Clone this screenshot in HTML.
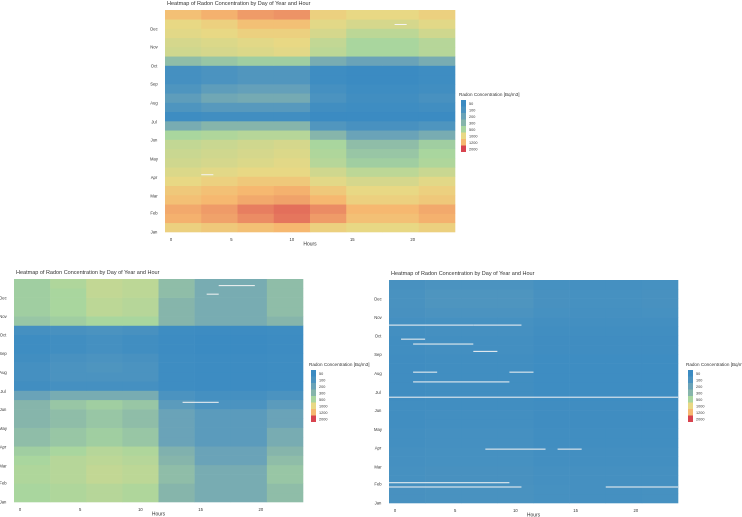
<!DOCTYPE html>
<html><head><meta charset="utf-8"><style>
body{margin:0;background:#fff;width:742px;height:517px;overflow:hidden;font-family:"Liberation Sans",sans-serif}
svg{position:absolute;left:0;top:0}
text{font-family:"Liberation Sans",sans-serif;fill:#333}
</style></head><body>
<svg id="s" width="742" height="517"></svg>
<script>
const months=["Jan","Feb","Mar","Apr","May","Jun","Jul","Aug","Sep","Oct","Nov","Dec"];
const monthStart=[0,31,59,90,120,151,181,212,243,273,304,334];
const hourTicks=[0,5,10,15,20];
const legendLabels=["50","100","200","300","500","1000","1200","2000"];
const legendColors=["#3b8bc2","#4b93c0","#6aa3b8","#86b5ab","#a9d69e","#e8d884","#f6b870","#d8434f"];
// half-month bands (Jan first), 8 hour blocks of 3 h
const chart1Values=[
[1050,1100,1150,1200,1050,1000,1000,1050],[1250,1350,1500,1650,1400,1150,1150,1250],
[1300,1400,1600,1700,1500,1200,1200,1300],[1150,1200,1300,1350,1200,1050,1050,1100],
[1100,1150,1200,1250,1100,1000,1000,1050],[1000,1050,1100,1100,950,850,850,950],
[900,950,1000,1000,800,650,650,750],[800,850,900,950,600,450,450,550],
[750,800,850,900,550,400,400,500],[700,750,800,850,500,350,350,450],
[500,550,600,600,300,200,200,250],[250,300,300,300,120,90,90,110],
[60,70,70,70,50,50,50,50],[110,140,140,140,70,60,60,70],
[160,220,240,240,100,70,70,90],[110,160,180,180,80,60,60,70],
[80,100,120,120,60,50,50,60],[80,100,120,120,60,50,50,60],
[350,400,450,450,250,200,200,250],[800,850,900,950,650,500,500,600],
[850,900,950,1000,700,500,500,600],[950,1000,1050,1050,850,650,650,800],
[1000,1050,1150,1150,950,850,850,950],[1150,1250,1400,1450,1050,1000,1000,1050]];
const chart2Values=[
[500,550,600,550,300,250,250,350],[500,550,600,550,300,250,250,350],
[550,600,700,650,350,250,250,400],[550,600,700,650,350,250,250,400],
[500,600,650,600,300,200,200,350],[450,500,600,550,280,200,200,300],
[350,400,450,400,200,150,150,250],[350,400,450,400,200,150,150,250],
[300,350,400,350,200,150,150,200],[300,350,400,350,200,150,150,200],
[300,400,450,400,150,100,100,150],[200,250,250,250,100,80,80,100],
[70,80,80,80,60,55,55,60],[80,100,100,100,60,55,55,60],
[80,100,110,100,60,55,55,60],[70,90,100,90,60,55,55,60],
[60,70,80,70,55,50,50,55],[60,70,80,70,55,50,50,55],
[80,90,100,90,60,55,55,60],[400,450,500,500,300,250,250,300],
[450,500,650,600,300,250,250,350],[450,500,650,600,300,250,250,350],
[450,500,700,650,350,250,250,350],[450,550,700,650,350,250,250,350]];
const chart3Values=[
[90,95,95,95,85,80,80,85],[90,95,95,95,85,80,80,85],[85,90,90,90,80,80,80,80],[85,90,90,90,80,80,80,80],
[80,85,85,85,75,75,75,75],[80,85,85,85,75,75,75,75],[75,80,80,80,70,70,70,70],[75,80,80,80,70,70,70,70],
[70,75,75,75,65,65,65,65],[70,75,75,75,65,65,65,65],[70,70,70,70,65,65,65,65],[65,70,70,70,60,60,60,60],
[65,70,70,70,60,60,60,60],[65,70,70,70,60,60,60,60],[65,70,70,70,60,60,60,60],[65,70,70,70,60,60,60,60],
[70,75,75,75,65,65,65,65],[70,75,75,75,65,65,65,65],[75,80,80,80,70,70,70,70],[80,85,85,85,75,75,75,75],
[90,100,100,100,85,80,80,85],[95,110,110,110,90,85,85,90],[95,110,110,110,90,85,85,90],[90,100,100,100,85,80,80,85]];
// missing-data gaps: [dayOfYear, startHour, endHour]
const chart3Gaps=[[291,0,7],[291,7,11],[173,0,24],[268,1,3],[260,2,7],[33,0,10],[26,0,11],[26,18,24],[88,8,13],[88,14,16],[214,2,4],[214,10,12],[198,2,10],[248,7,9]];
const chart2Gaps=[[354,17,20],[340,16,17],[163,14,17]];
const chart1Gaps=[[341,19,20],[94,3,4]];

const S=document.getElementById('s');const NS='http://www.w3.org/2000/svg';
function mk(t,a,p){const e=document.createElementNS(NS,t);for(const k in a)e.setAttribute(k,a[k]);(p||S).appendChild(e);return e;}
function hex(h){return [1,3,5].map(i=>parseInt(h.substr(i,2),16));}
const lv=legendLabels.map(Number);
function color(v){
  if(v<=lv[0])return legendColors[0];
  for(let i=0;i<lv.length-1;i++){if(v<=lv[i+1]){const t=(v-lv[i])/(lv[i+1]-lv[i]);const a=hex(legendColors[i]),b=hex(legendColors[i+1]);return 'rgb('+a.map((x,j)=>Math.round(x+(b[j]-x)*t)).join(',')+')';}}
  return legendColors[legendColors.length-1];
}
function chart(c){
  const g=mk('g',{});
  
  
  const W=c.x1-c.x0,H=c.y1-c.y0;
  const xs=h=>c.x0+(h+0.5)/24*W;
  const ys=d=>c.y1-d/365*H;
  const t=mk('text',{x:c.x0+2,y:c.y0-5,'font-size':5.5},g);t.textContent='Heatmap of Radon Concentration by Day of Year and Hour';
  
  
  const nb=c.values.length;
  c.values.forEach((row,bi)=>{
    const d0=bi*365/nb,d1=(bi+1)*365/nb;
    row.forEach((v,hb)=>{
      const r=mk('rect',{x:xs(hb*3-0.5),y:ys(d1),width:xs(hb*3+2.5)-xs(hb*3-0.5)+0.3,height:ys(d0)-ys(d1)+0.3,fill:color(v)},g);
      
      
    });
  });
  c.gaps.forEach(gp=>{
    const r=mk('rect',{x:xs(gp[1]-0.5),y:ys(gp[0]+1),width:xs(gp[2]-0.5)-xs(gp[1]-0.5),height:1,fill:'#f4f4f4'},g);
    
    
  });
  months.forEach((m,i)=>{const e=mk('text',{x:c.x0-11,y:ys(monthStart[i])+1.5,'font-size':4.2,'text-anchor':'middle',fill:'#555'},g);e.textContent=m;
    
    });
  hourTicks.forEach(h=>{const e=mk('text',{x:xs(h),y:c.y1+9,'font-size':4.2,'text-anchor':'middle',fill:'#555'},g);e.textContent=h;
    
    });
  const xl=mk('text',{x:(c.x0+c.x1)/2,y:c.y1+13.5,'font-size':5,'text-anchor':'middle'},g);xl.textContent='Hours';
  
  
  const lg=mk('g',{},g);
  
  
  const lt=mk('text',{x:c.lx,y:c.ly,'font-size':4.6},lg);lt.textContent='Radon Concentration  [Bq/m3]';
  legendColors.forEach((col,i)=>{
    mk('rect',{x:c.lx+2,y:c.ly+4+i*6.5,width:5,height:6.5,fill:col},lg);
    const e=mk('text',{x:c.lx+10,y:c.ly+9+i*6.5,'font-size':3.8,fill:'#444'},lg);e.textContent=legendLabels[i];
    
    
  });
}
chart({name:'heatmap-top',x0:165,x1:455,y0:10,y1:232,values:chart1Values,gaps:chart1Gaps,lx:459,ly:96});
chart({name:'heatmap-bottom-left',x0:14,x1:303,y0:279,y1:502,values:chart2Values,gaps:chart2Gaps,lx:309,ly:366});
chart({name:'heatmap-bottom-right',x0:389,x1:678,y0:280,y1:503,values:chart3Values,gaps:chart3Gaps,lx:686,ly:366});
</script>
</body></html>
